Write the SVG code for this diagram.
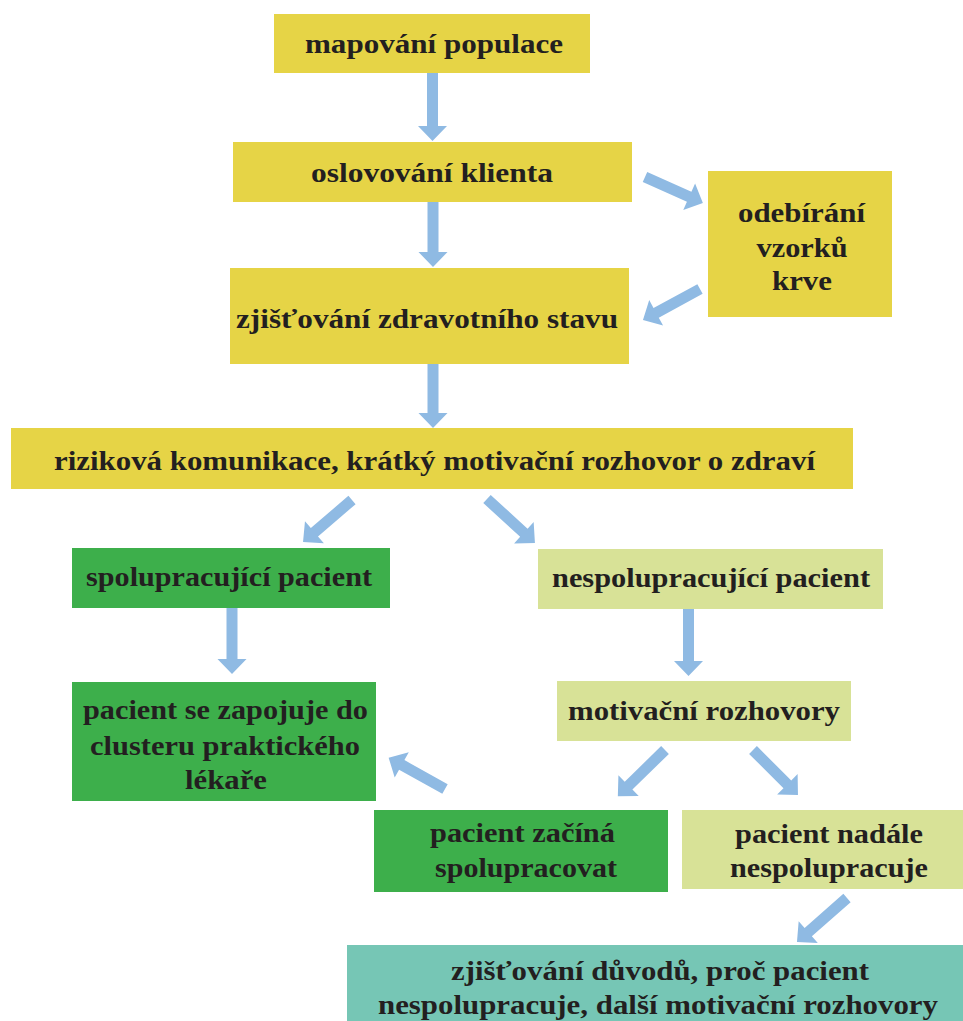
<svg xmlns="http://www.w3.org/2000/svg" width="963" height="1021" viewBox="0 0 963 1021">
<style>
.y{fill:#e6d446}.g{fill:#3daf4b}.l{fill:#d8e297}.t{fill:#76c6b5}
text{font-family:"Liberation Serif","Times New Roman",serif;font-weight:bold;font-size:27px;fill:#231f20;text-anchor:middle}
.a{fill:#8fbae3}
</style>
<rect width="963" height="1021" fill="#ffffff"/>
<g id="connectors" class="a">
<polygon transform="translate(432.5,73) rotate(90)" points="0,-5.5 53,-5.5 53,-14.5 68,0 53,14.5 53,5.5 0,5.5"/>
<polygon transform="translate(433,202) rotate(90)" points="0,-5.5 50,-5.5 50,-14.5 65,0 50,14.5 50,5.5 0,5.5"/>
<polygon transform="translate(433,364) rotate(90)" points="0,-5.5 49,-5.5 49,-14.5 64,0 49,14.5 49,5.5 0,5.5"/>
<polygon transform="translate(352,500) rotate(139.4)" points="0,-5.5 49.5,-5.5 49.5,-14.5 64.5,0 49.5,14.5 49.5,5.5 0,5.5"/>
<polygon transform="translate(487,499) rotate(42.5)" points="0,-5.5 50,-5.5 50,-14.5 65,0 50,14.5 50,5.5 0,5.5"/>
<polygon transform="translate(232,608) rotate(90)" points="0,-5.5 51,-5.5 51,-14.5 66,0 51,14.5 51,5.5 0,5.5"/>
<polygon transform="translate(688.5,609) rotate(90)" points="0,-5.5 52,-5.5 52,-14.5 67,0 52,14.5 52,5.5 0,5.5"/>
<polygon transform="translate(665,750) rotate(135.6)" points="0,-5.5 51,-5.5 51,-14.5 66,0 51,14.5 51,5.5 0,5.5"/>
<polygon transform="translate(753,750) rotate(45)" points="0,-5.5 48.6,-5.5 48.6,-14.5 63.6,0 48.6,14.5 48.6,5.5 0,5.5"/>
<polygon transform="translate(445,789) rotate(209.1)" points="0,-5.5 49.5,-5.5 49.5,-14.5 64.5,0 49.5,14.5 49.5,5.5 0,5.5"/>
<polygon transform="translate(847,898) rotate(138.7)" points="0,-5.5 51.6,-5.5 51.6,-14.5 66.6,0 51.6,14.5 51.6,5.5 0,5.5"/>
<polygon transform="translate(645,177) rotate(24.1)" points="0,-5.5 48.4,-5.5 48.4,-14.5 63.4,0 48.4,14.5 48.4,5.5 0,5.5"/>
<polygon transform="translate(700,289) rotate(151.5)" points="0,-5.5 49.9,-5.5 49.9,-14.5 64.9,0 49.9,14.5 49.9,5.5 0,5.5"/>
</g>
<g id="n1"><rect class="y" x="274" y="14" width="316" height="59"/><text x="434" y="53" textLength="258" lengthAdjust="spacingAndGlyphs">mapování populace</text></g>
<g id="n2"><rect class="y" x="233" y="142" width="399" height="60"/><text x="432" y="182" textLength="242" lengthAdjust="spacingAndGlyphs">oslovování klienta</text></g>
<g id="n3"><rect class="y" x="708" y="171" width="184" height="146"/>
<text x="801.5" y="222" textLength="127" lengthAdjust="spacingAndGlyphs">odebírání</text>
<text x="802" y="257" textLength="91" lengthAdjust="spacingAndGlyphs">vzorků</text>
<text x="802" y="290" textLength="60" lengthAdjust="spacingAndGlyphs">krve</text></g>
<g id="n4"><rect class="y" x="230" y="268" width="399" height="96"/><text x="427" y="328" textLength="382" lengthAdjust="spacingAndGlyphs">zjišťování zdravotního stavu</text></g>
<g id="n5"><rect class="y" x="11" y="428" width="842" height="61"/><text x="434.5" y="470" textLength="761" lengthAdjust="spacingAndGlyphs">riziková komunikace, krátký motivační rozhovor o zdraví</text></g>
<g id="n6"><rect class="g" x="72" y="548" width="318" height="60"/><text x="229" y="586" textLength="286" lengthAdjust="spacingAndGlyphs">spolupracující pacient</text></g>
<g id="n7"><rect class="l" x="538" y="549" width="345" height="60"/><text x="711" y="587" textLength="318" lengthAdjust="spacingAndGlyphs">nespolupracující pacient</text></g>
<g id="n8"><rect class="g" x="72" y="682" width="304" height="119"/>
<text x="225.5" y="719" textLength="285" lengthAdjust="spacingAndGlyphs">pacient se zapojuje do</text>
<text x="225" y="755" textLength="270" lengthAdjust="spacingAndGlyphs">clusteru praktického</text>
<text x="226" y="789" textLength="82" lengthAdjust="spacingAndGlyphs">lékaře</text></g>
<g id="n9"><rect class="l" x="557" y="681" width="294" height="60"/><text x="704" y="720" textLength="272" lengthAdjust="spacingAndGlyphs">motivační rozhovory</text></g>
<g id="n10"><rect class="g" x="374" y="810" width="294" height="82"/>
<text x="522.5" y="842" textLength="185" lengthAdjust="spacingAndGlyphs">pacient začíná</text>
<text x="526" y="877" textLength="182" lengthAdjust="spacingAndGlyphs">spolupracovat</text></g>
<g id="n11"><rect class="l" x="682" y="810" width="281" height="79"/>
<text x="829" y="843" textLength="188" lengthAdjust="spacingAndGlyphs">pacient nadále</text>
<text x="829" y="877" textLength="198" lengthAdjust="spacingAndGlyphs">nespolupracuje</text></g>
<g id="n12"><rect class="t" x="347" y="945" width="616" height="76"/>
<text x="660" y="980" textLength="418" lengthAdjust="spacingAndGlyphs">zjišťování důvodů, proč pacient</text>
<text x="658" y="1014" textLength="560" lengthAdjust="spacingAndGlyphs">nespolupracuje, další motivační rozhovory</text></g>
</svg>
